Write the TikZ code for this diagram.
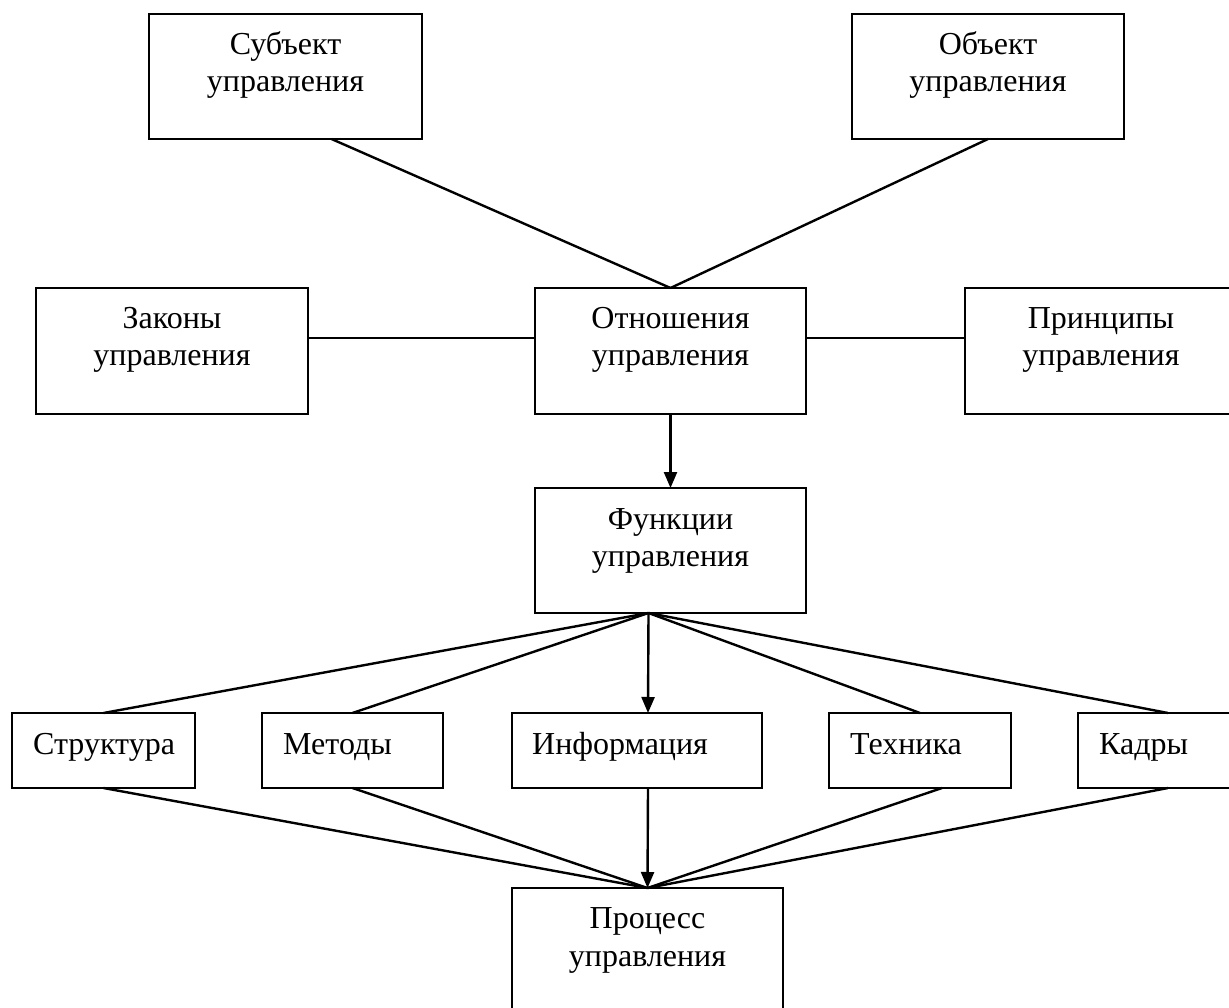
\documentclass[tikz,border=0pt]{standalone}
\usepackage{fontspec}
\setmainfont{Liberation Serif}
\usetikzlibrary{arrows.meta,calc}
\begin{document}
\begin{tikzpicture}[x=1pt,y=-1pt,
  box/.style={draw,line width=2.5pt,outer sep=0pt,inner sep=0pt,anchor=north west},
  txt/.style={font=\fontsize{32}{37}\selectfont,inner sep=0pt,anchor=base},
  ltxt/.style={font=\fontsize{32}{37}\selectfont,inner sep=0pt,anchor=base west},
  conn/.style={line width=2.4pt},
  arr/.style={line width=2.4pt,-{Triangle[length=16pt,width=13pt]}}]
\useasboundingbox (0,0) rectangle (1229,1008);
% boxes
\node[box,minimum width=273pt,minimum height=125pt] (subj) at (149,14) {};
\node[box,minimum width=272pt,minimum height=125pt] (obj) at (852,14) {};
\node[box,minimum width=272pt,minimum height=126pt] (zak) at (36,288) {};
\node[box,minimum width=271pt,minimum height=126pt] (otn) at (535,288) {};
\node[box,minimum width=272pt,minimum height=126pt] (prin) at (965,288) {};
\node[box,minimum width=271pt,minimum height=125pt] (fun) at (535,488) {};
\node[box,minimum width=183pt,minimum height=75pt] (str) at (12,713) {};
\node[box,minimum width=181pt,minimum height=75pt] (met) at (262,713) {};
\node[box,minimum width=250pt,minimum height=75pt] (inf) at (512,713) {};
\node[box,minimum width=182pt,minimum height=75pt] (tex) at (829,713) {};
\node[box,minimum width=180pt,minimum height=75pt] (kad) at (1078,713) {};
\node[box,minimum width=271pt,minimum height=130pt] (proc) at (512,888) {};
% texts
\node[txt] (subjA) at (285.5,55) {Субъект};
\node[txt] (subjB) at (285.5,92) {управления};
\node[txt] (objA) at (988,55) {Объект};
\node[txt] (objB) at (988,92) {управления};
\node[txt] (zakA) at (172,329) {Законы};
\node[txt] (zakB) at (172,366) {управления};
\node[txt] (otnA) at (670.5,329) {Отношения};
\node[txt] (otnB) at (670.5,366) {управления};
\node[txt] (prinA) at (1101,329) {Принципы};
\node[txt] (prinB) at (1101,366) {управления};
\node[txt] (funA) at (670.5,529) {Функции};
\node[txt] (funB) at (670.5,566) {управления};
\node[ltxt] (strA) at (33,754) {Структура};
\node[ltxt] (metA) at (283,754) {Методы};
\node[ltxt] (infA) at (532,754) {Информация};
\node[ltxt] (texA) at (850,754) {Техника};
\node[ltxt] (kadA) at (1099,754) {Кадры};
\node[txt] (procA) at (647.5,928) {Процесс};
\node[txt] (procB) at (647.5,966) {управления};
% connection points
\coordinate (subjP) at ($(subj.south)+(46,0)$);
\coordinate (fanP) at ($(fun.south)+(-22,0)$);
\coordinate (infT) at ($(inf.north)+(11,0)$);
\coordinate (infB) at ($(inf.south)+(11,0)$);
\coordinate (texB) at ($(tex.south)+(22,0)$);
% connectors
\draw[conn] (subjP) -- (otn.north);
\draw[conn] (obj.south) -- (otn.north);
\draw[conn] ($(zak.east)+(0,-13)$) -- ($(otn.west)+(0,-13)$);
\draw[conn] ($(otn.east)+(0,-13)$) -- ($(prin.west)+(0,-13)$);
\draw[arr] (otn.south) -- (fun.north);
\draw[conn] (fanP) -- (str.north);
\draw[conn] (fanP) -- (met.north);
\draw[arr] (fanP) -- (infT);
\draw[conn] (fanP) -- (tex.north);
\draw[conn] (fanP) -- (kad.north);
\draw[conn] (str.south) -- (proc.north);
\draw[conn] (met.south) -- (proc.north);
\draw[arr] (infB) -- (proc.north);
\draw[conn] (texB) -- (proc.north);
\draw[conn] (kad.south) -- (proc.north);
\end{tikzpicture}
\end{document}
